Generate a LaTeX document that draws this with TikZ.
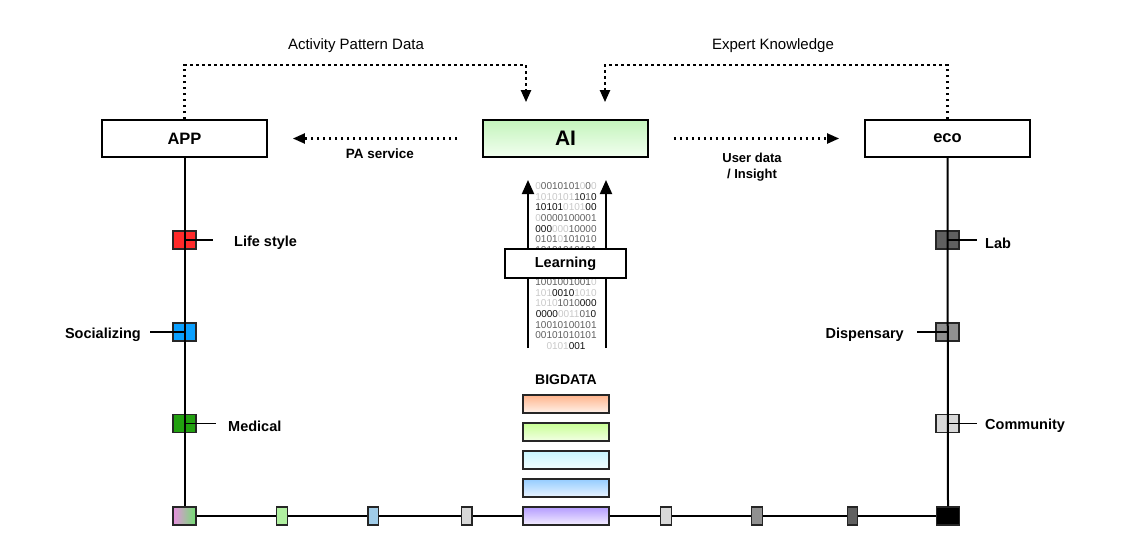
\documentclass[tikz,border=0pt]{standalone}
\usepackage{fontspec}
\setmainfont{Liberation Sans}
\usetikzlibrary{arrows.meta}
\definecolor{binL}{HTML}{C8C8C8}
\definecolor{binM}{HTML}{606060}
\definecolor{binD}{HTML}{101010}
\definecolor{aiT}{HTML}{C4F4BC}
\definecolor{aiB}{HTML}{F2FFF0}
\definecolor{sqRed}{HTML}{FF2A2A}
\definecolor{sqBlue}{HTML}{0AA0FF}
\definecolor{sqGreen}{HTML}{22A010}
\definecolor{gDark}{HTML}{606060}
\definecolor{gMid}{HTML}{909090}
\definecolor{gLight}{HTML}{D8D8D8}
\definecolor{blL}{HTML}{E890E0}
\definecolor{blR}{HTML}{70E070}
\definecolor{tGreen}{HTML}{B0F0A0}
\definecolor{tBlue}{HTML}{A0CCE8}
\definecolor{b1T}{HTML}{FFB48C}
\definecolor{b1B}{HTML}{FFF2EA}
\definecolor{b2T}{HTML}{C8FF94}
\definecolor{b2B}{HTML}{F2FFE4}
\definecolor{b3T}{HTML}{C8F6FF}
\definecolor{b3B}{HTML}{F2FEFF}
\definecolor{b4T}{HTML}{94CCFF}
\definecolor{b4B}{HTML}{EAF4FF}
\definecolor{b5T}{HTML}{B49CFF}
\definecolor{b5B}{HTML}{F4EEFF}
\newcommand\bLt[1]{\textcolor{binL}{#1}}
\newcommand\bMd[1]{\textcolor{binM}{#1}}
\newcommand\bDk[1]{\textcolor{binD}{#1}}
\begin{document}
\begin{tikzpicture}[x=1pt,y=-1pt,
  bigbox/.style={draw=black, line width=1.8pt, minimum width=165pt, minimum height=37pt, inner sep=0pt, font=\fontsize{16.5}{18}\selectfont\bfseries},
  sqbox/.style={draw=black!85, line width=1.5pt, minimum width=23pt, minimum height=18pt, inner sep=0pt},
  tickbox/.style={draw=black!85, line width=1.3pt, minimum width=10.5pt, minimum height=18pt, inner sep=0pt},
  barbox/.style={draw=black!85, line width=1.6pt, minimum width=86pt, minimum height=18pt, inner sep=0pt},
  lbl/.style={font=\fontsize{14.5}{16}\selectfont\bfseries, inner sep=0pt},
  toplbl/.style={font=\fontsize{15}{17}\selectfont, inner sep=0pt},
  wire/.style={line width=2pt, black},
  stub/.style={line width=1.5pt, black},
  dotarr/.style={line width=2.2pt, dash pattern=on 2.2pt off 3.8pt, -{Triangle[width=10pt,length=12pt]}},
  solarr/.style={line width=2pt, -{Triangle[width=12pt,length=14pt]}},
  bintext/.style={align=center, inner sep=0pt, font=\fontsize{10}{10.6}\selectfont}
]
\useasboundingbox (0,0) rectangle (1144,533);

% main boxes
\node[bigbox] (app) at (184.5,138.5) {APP};
\node[bigbox, top color=aiT, bottom color=aiB] (ai) at (565.5,138.5) {\fontsize{21}{23}\selectfont AI};
\node[bigbox] (eco) at (947.5,138.5) {eco};

% side squares
\node[sqbox, fill=sqRed] (ls) at (184.5,240) {};
\node[sqbox, fill=sqBlue] (soc) at (184.5,332) {};
\node[sqbox, fill=sqGreen] (med) at (184.5,423.5) {};
\node[sqbox, fill=gDark] (lab) at (947.5,240) {};
\node[sqbox, fill=gMid] (dis) at (947.5,332) {};
\node[sqbox, fill=gLight] (com) at (947.5,423.5) {};

% bottom row
\node[sqbox, left color=blL, right color=blR] (bl) at (184.5,516) {};
\node[tickbox, fill=tGreen] (t1) at (282,516) {};
\node[tickbox, fill=tBlue] (t2) at (373.3,516) {};
\node[tickbox, fill=gLight] (t3) at (466.7,516) {};
\node[tickbox, fill=gLight] (t4) at (666,516) {};
\node[tickbox, fill=gMid] (t5) at (757,516) {};
\node[tickbox, fill=gDark] (t6) at (852.5,516) {};
\node[sqbox, fill=black] (br) at (948,516) {};

% bigdata bars
\node[barbox, top color=b1T, bottom color=b1B] (b1) at (566,404) {};
\node[barbox, top color=b2T, bottom color=b2B] (b2) at (566,432) {};
\node[barbox, top color=b3T, bottom color=b3B] (b3) at (566,460) {};
\node[barbox, top color=b4T, bottom color=b4B] (b4) at (566,488) {};
\node[barbox, top color=b5T, bottom color=b5B] (b5) at (566,516) {};
\node[lbl, font=\fontsize{14}{16}\selectfont\bfseries] (bigdata) at (566,380) {BIGDATA};

% vertical lines and bottom line
\draw[wire] (app.south) -- (bl.north);
\draw[wire] (eco.south) -- (br.north);
\draw[wire] (bl.east) -- (t1.west) (t1.east) -- (t2.west) (t2.east) -- (t3.west) (t3.east) -- (b5.west)
  (b5.east) -- (t4.west) (t4.east) -- (t5.west) (t5.east) -- (t6.west) (t6.east) -- (br.west);

% labels
\node[lbl, anchor=west] (lsl) at (234,243) {Life style};
\node[lbl, anchor=east] (socl) at (141,335) {Socializing};
\node[lbl, anchor=west] (medl) at (228,426) {Medical};
\node[lbl, anchor=west] (labl) at (985,243) {Lab};
\node[lbl, anchor=east] (disl) at (904,335) {Dispensary};
\node[lbl, anchor=west] (coml) at (985,426) {Community};
\draw[stub] (ls.center) -- ([xshift=-21pt]lsl.west |- ls.center);
\draw[stub] (soc.center) -- ([xshift=9pt]socl.east |- soc.center);
\draw[stub] (med.center) -- ([xshift=-12pt]medl.west |- med.center);
\draw[stub] (lab.center) -- ([xshift=-8pt]labl.west |- lab.center);
\draw[stub] (dis.center) -- ([xshift=13pt]disl.east |- dis.center);
\draw[stub] (com.center) -- ([xshift=-8pt]coml.west |- com.center);

% binary data
\node[bintext] (bintop) at (566,218) {%
\bLt{0}\bMd{0010101}\bLt{0}\bMd{0}\bLt{0}\\
\bLt{1010101}\bMd{1}\bDk{0}\bMd{1}\bDk{0}\\
\bDk{10101}\bLt{0101}\bDk{00}\\
\bLt{0}\bMd{0000100001}\\
\bDk{000}\bLt{000}\bMd{10000}\\
\bMd{0101}\bLt{0}\bMd{101010}\\
\bMd{10101010101}};
\node[bintext] (binbot) at (566,314) {%
\bMd{1001001001}\bLt{0}\\
\bLt{101}\bDk{0010}\bLt{1010}\\
\bLt{1010}\bMd{1010}\bDk{000}\\
\bDk{0000}\bLt{0011}\bMd{01}\bDk{0}\\
\bMd{10010100101}\\
\bMd{00101010101}\\
\bLt{0101}\bDk{001}};

% learning arrows
\coordinate (la1) at (528,348);
\coordinate (la2) at (606,348);
\coordinate (la1t) at (528,180);
\coordinate (la2t) at (606,180);
\draw[solarr] (la1) -- (la1t);
\draw[solarr] (la2) -- (la2t);
\node[draw=black, fill=white, line width=1.8pt, minimum width=121pt, minimum height=29pt, inner sep=0pt, font=\fontsize{14.5}{16}\selectfont\bfseries] (learn) at (565.5,263.5) {Learning};

% dotted connectors
\coordinate (apd) at (526,65);
\coordinate (ekd) at (605,65);
\draw[dotarr, shorten >=17pt] (app.north) |- (apd) -- (apd |- ai.north);
\draw[dotarr, shorten >=17pt] (eco.north) |- (ekd) -- (ekd |- ai.north);
\draw[dotarr, shorten <=25pt, shorten >=25pt] (ai.west) -- (app.east);
\draw[dotarr, shorten <=25pt, shorten >=25pt] (ai.east) -- (eco.west);
\node[toplbl] (apdl) at (356,46) {Activity Pattern Data};
\node[toplbl] (ekdl) at (773,46) {Expert Knowledge};
\node[lbl, font=\fontsize{13.5}{15}\selectfont\bfseries] (pal) at (380,154) {PA service};
\node[lbl, font=\fontsize{13}{16}\selectfont\bfseries, align=center] (udl) at (752,167) {User data\\/ Insight};
\end{tikzpicture}
\end{document}
